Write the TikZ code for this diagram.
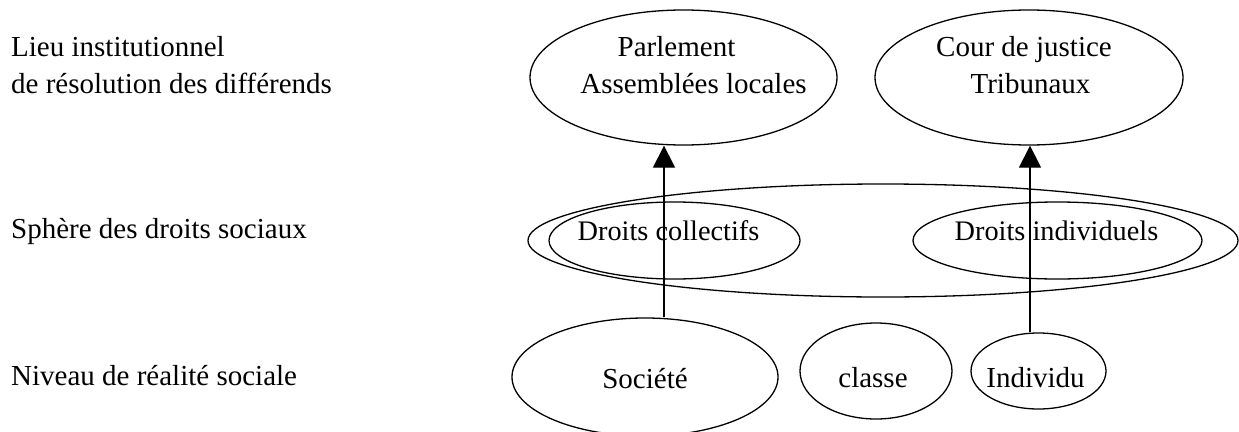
\documentclass[tikz,border=0pt]{standalone}
\usepackage{fontspec}
\setmainfont{Liberation Serif}
\usetikzlibrary{arrows.meta,shapes.geometric}

\tikzset{
  oval/.style={draw, ellipse, line width=1.3pt, inner sep=0pt},
  txt/.style={anchor=base, inner sep=0pt, font=\fontsize{29}{37}\selectfont},
  sidetxt/.style={anchor=base west, inner sep=0pt, font=\fontsize{29}{37}\selectfont},
  smalltxt/.style={anchor=base, inner sep=0pt, font=\fontsize{28.3}{37}\selectfont},
  uparrow/.style={line width=1.3pt, -{Triangle[width=22pt,length=22pt]}}
}

\begin{document}
\begin{tikzpicture}[x=1pt, y=-1pt]
  \useasboundingbox (0,0) rectangle (1239,431);

  % row labels
  \node[sidetxt] (l1a) at (11,56) {Lieu institutionnel};
  \node[sidetxt] (l1b) at (11,93) {de résolution des différends};
  \node[sidetxt] (l2)  at (11,238) {Sphère des droits sociaux};
  \node[sidetxt] (l3)  at (11,385) {Niveau de réalité sociale};

  % institutions
  \node[oval, minimum width=307pt, minimum height=135pt] (parl) at (683.5,77.5) {};
  \node[txt] (parlA) at (676.5,56) {Parlement};
  \node[txt] (parlB) at (693.5,93) {Assemblées locales};

  \node[oval, minimum width=308pt, minimum height=135pt] (cour) at (1029,77.5) {};
  \node[txt] (courA) at (1024,56) {Cour de justice};
  \node[txt] (courB) at (1030.5,93) {Tribunaux};

  % sphere of social rights
  \node[oval, minimum width=710pt, minimum height=113pt] (sphere) at (883,240.5) {};
  \node[oval, minimum width=251pt, minimum height=77pt] (coll) at (674.5,240.5) {};
  \node[smalltxt] (collT) at (668.5,240) {Droits collectifs};
  \node[oval, minimum width=289pt, minimum height=77pt] (indiv) at (1057.5,240.5) {};
  \node[smalltxt] (indivT) at (1056.5,240) {Droits individuels};

  % levels of social reality
  \node[oval, minimum width=266pt, minimum height=118pt] (soc) at (645,377) {};
  \node[txt] (socT) at (645,388) {Société};
  \node[oval, minimum width=152pt, minimum height=96pt] (cls) at (876,371) {};
  \node[txt] (clsT) at (873,387) {classe};
  \node[oval, minimum width=135pt, minimum height=76pt] (ind) at (1038.5,371) {};
  \node[txt] (indT) at (1035.5,387) {Individu};

  % arrows
  \coordinate (a1) at (664,0);
  \coordinate (a2) at (1030,0);
  \draw[uparrow] (a1 |- soc.north) -- (a1 |- parl.south);
  \draw[uparrow] (a2 |- ind.north) -- (a2 |- cour.south);
\end{tikzpicture}
\end{document}
